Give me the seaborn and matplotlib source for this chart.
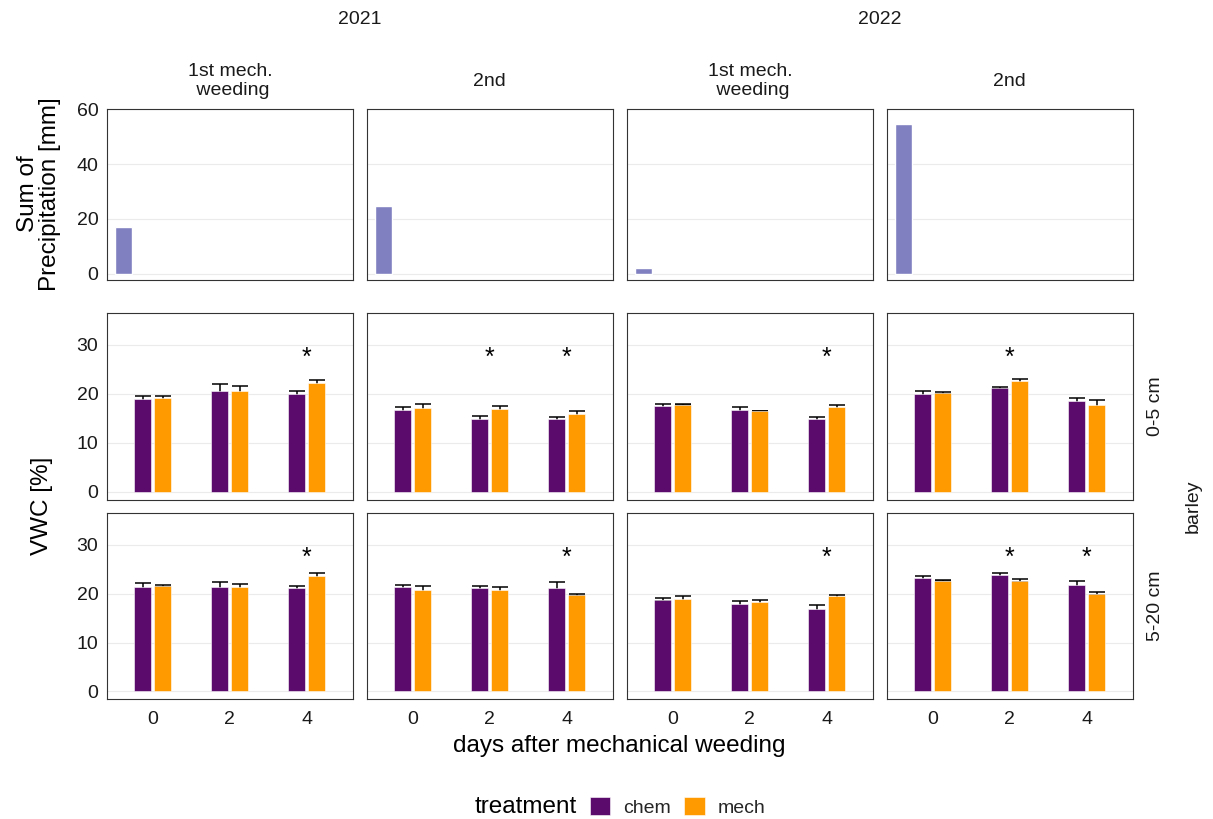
import numpy as np
import pandas as pd
import matplotlib
matplotlib.use("Agg")
import matplotlib.pyplot as plt
from matplotlib.patches import Patch
import seaborn as sns

# ---------------------------------------------------------------- data
days = [0, 2, 4]
treatments = ["chem", "mech"]
years = ["2021", "2021", "2022", "2022"]
events = ["1st mech.\n weeding", "2nd", "1st mech.\n weeding", "2nd"]
depths = ["0-5 cm", "5-20 cm"]

# precipitation summed over the period before each weeding event
precip_day = -0.77
precip_sum = [17.1, 24.7, 2.2, 54.5]

# volumetric water content (mean and standard error), one row per event, one column per day
vwc_0_5_chem = [[18.9, 20.65, 20.0], [16.7, 14.8, 14.8], [17.45, 16.7, 14.8], [19.9, 21.2, 18.5]]
se_0_5_chem = [[0.7, 1.45, 0.65], [0.7, 0.6, 0.5], [0.55, 0.55, 0.5], [0.75, 0.3, 0.65]]
vwc_0_5_mech = [[19.1, 20.6, 22.3], [17.1, 16.9, 15.95], [17.8, 16.5, 17.4], [20.2, 22.7, 17.7]]
se_0_5_mech = [[0.5, 1.0, 0.5], [0.8, 0.7, 0.65], [0.1, 0.1, 0.4], [0.25, 0.4, 1.05]]

vwc_5_20_chem = [[21.4, 21.4, 21.1], [21.3, 21.1, 21.1], [18.8, 17.9, 16.8], [23.2, 23.8, 21.8]]
se_5_20_chem = [[0.9, 1.0, 0.4], [0.4, 0.4, 1.4], [0.35, 0.6, 0.9], [0.4, 0.4, 0.8]]
vwc_5_20_mech = [[21.5, 21.3, 23.7], [20.7, 20.8, 19.8], [19.0, 18.3, 19.5], [22.7, 22.7, 20.0]]
se_5_20_mech = [[0.2, 0.8, 0.6], [0.9, 0.5, 0.2], [0.6, 0.5, 0.3], [0.1, 0.3, 0.3]]

# significant difference between treatments (1 = marked with *)
sig_0_5 = [[0, 0, 1], [0, 1, 1], [0, 0, 1], [0, 1, 0]]
sig_5_20 = [[0, 0, 1], [0, 0, 1], [0, 0, 1], [0, 1, 1]]
sig_label_y = 27.4

# ---------------------------------------------------------------- style
sns.set_style("white")
plt.rcParams["font.family"] = ["Liberation Sans", "DejaVu Sans"]

colors = {"chem": "#5A0B6C", "mech": "#FF9A00"}
precip_color = "#8080C0"
border = "#333333"
gridc = "#EBEBEB"
textc = "#1A1A1A"

FS_TICK = 14
FS_TITLE = 17.5

W, H = 1213, 819
fig = plt.figure(figsize=(W / 100, H / 100), dpi=100)


def add_ax(left, top, right, bottom):
    return fig.add_axes([left / W, 1 - bottom / H, (right - left) / W, (bottom - top) / H])


col_left = [106.7, 366.7, 626.7, 886.7]
col_w = 246.3
rows = [(109, 280), (312.7, 499.5), (512.7, 699.3)]


def style_ax(ax, ylim, yticks, show_ylabels, show_xticks, show_xlabels):
    ax.set_xlim(-1.2, 5.2)
    ax.set_ylim(*ylim)
    ax.set_yticks(yticks)
    ax.set_xticks(days)
    ax.set_axisbelow(True)
    ax.grid(axis="y", color=gridc, linewidth=0.8)
    ax.grid(axis="x", visible=False)
    for s in ax.spines.values():
        s.set_color(border)
        s.set_linewidth(0.8)
    ax.tick_params(axis="y", length=4 if show_ylabels else 0, width=1.0, color=border,
                   labelsize=FS_TICK, labelcolor=textc, pad=2, labelleft=show_ylabels)
    ax.tick_params(axis="x", length=4.5 if show_xticks else 0, width=1.0, color=border,
                   labelsize=FS_TICK, labelcolor=textc, pad=4, labelbottom=show_xlabels)
    ax.set_xlabel("")
    ax.set_ylabel("")


# precipitation row
for j in range(4):
    ax = add_ax(col_left[j], rows[0][0], col_left[j] + col_w, rows[0][1])
    sns.barplot(x=[precip_day], y=[precip_sum[j]], native_scale=True, width=0.44,
                color=precip_color, saturation=1, errorbar=None, ax=ax)
    style_ax(ax, (-2.3, 60.1), [0, 20, 40, 60], j == 0, True, False)

# soil moisture rows
vwc_sets = [
    (vwc_0_5_chem, se_0_5_chem, vwc_0_5_mech, se_0_5_mech, sig_0_5),
    (vwc_5_20_chem, se_5_20_chem, vwc_5_20_mech, se_5_20_mech, sig_5_20),
]
for r, (vc, sc, vm, sm, sig) in enumerate(vwc_sets):
    top, bottom = rows[r + 1]
    for j in range(4):
        ax = add_ax(col_left[j], top, col_left[j] + col_w, bottom)
        df = pd.DataFrame({
            "day": days * 2,
            "treatment": ["chem"] * 3 + ["mech"] * 3,
            "vwc": list(vc[j]) + list(vm[j]),
            "se": list(sc[j]) + list(sm[j]),
        })
        sns.barplot(data=df, x="day", y="vwc", hue="treatment", hue_order=treatments,
                    native_scale=True, width=0.52, gap=0.15, palette=colors,
                    saturation=1, errorbar=None, edgecolor="white", linewidth=0.4,
                    legend=False, ax=ax)
        # error bars at the centre of each drawn bar (sorted: chem, mech per day)
        bars = sorted(ax.patches, key=lambda p: p.get_x() + p.get_width() / 2)
        errs = []
        for d in range(3):
            errs += [sc[j][d], sm[j][d]]
        cx = [b.get_x() + b.get_width() / 2 for b in bars]
        hy = [b.get_height() for b in bars]
        ax.errorbar(cx, hy, yerr=errs, fmt="none", ecolor="black", elinewidth=1.1,
                    capsize=6, capthick=1.1, zorder=0.9)
        for d, day in enumerate(days):
            if sig[j][d]:
                ax.text(day, sig_label_y, "*", ha="center", va="center",
                        fontsize=18, color="black")
        style_ax(ax, (-1.6, 36.6), [0, 10, 20, 30], j == 0, r == 1, r == 1)

# facet strips on top
for k, yr in enumerate(["2021", "2022"]):
    xc = (col_left[2 * k] + col_left[2 * k + 1] + col_w) / 2
    fig.text(xc / W, 1 - 19 / H, yr, ha="center", va="center", fontsize=FS_TICK, color=textc)
for j in range(4):
    xc = col_left[j] + col_w / 2
    fig.text(xc / W, 1 - 81 / H, events[j], ha="center", va="center", fontsize=FS_TICK,
             color=textc, linespacing=1.1)

# facet strips on the right
strip_x = 1156
for r, lab in enumerate(depths):
    yc = sum(rows[r + 1]) / 2
    fig.text(strip_x / W, 1 - yc / H, lab, rotation=90, ha="center", va="center",
             fontsize=FS_TICK, color=textc)
fig.text(1193 / W, 1 - 506 / H, "barley", rotation=90, ha="center", va="center",
         fontsize=FS_TICK, color=textc)

# axis titles
fig.text(39 / W, 1 - 194 / H, "Sum of\nPrecipitation [mm]", rotation=90, ha="center",
         va="center", fontsize=FS_TITLE, color="black", linespacing=1.0)
fig.text(42 / W, 1 - 506 / H, "VWC [%]", rotation=90, ha="center", va="center",
         fontsize=FS_TITLE, color="black")
fig.text(619 / W, 1 - 746 / H, "days after mechanical weeding", ha="center", va="center",
         fontsize=FS_TITLE, color="black")

# legend
fig.text(577 / W, 1 - 807 / H, "treatment", ha="right", va="center", fontsize=FS_TITLE,
         color="black")
handles = [Patch(facecolor=colors[t], edgecolor="white", linewidth=0.4) for t in treatments]
fig.legend(handles, treatments, loc="center left", bbox_to_anchor=(590 / W, 1 - 807 / H),
           ncol=2, frameon=False, fontsize=FS_TICK, handlelength=1.05, handleheight=1.05,
           handletextpad=0.65, columnspacing=0.7, borderpad=0, borderaxespad=0)

fig.savefig("out.png", dpi=100, facecolor="white")
